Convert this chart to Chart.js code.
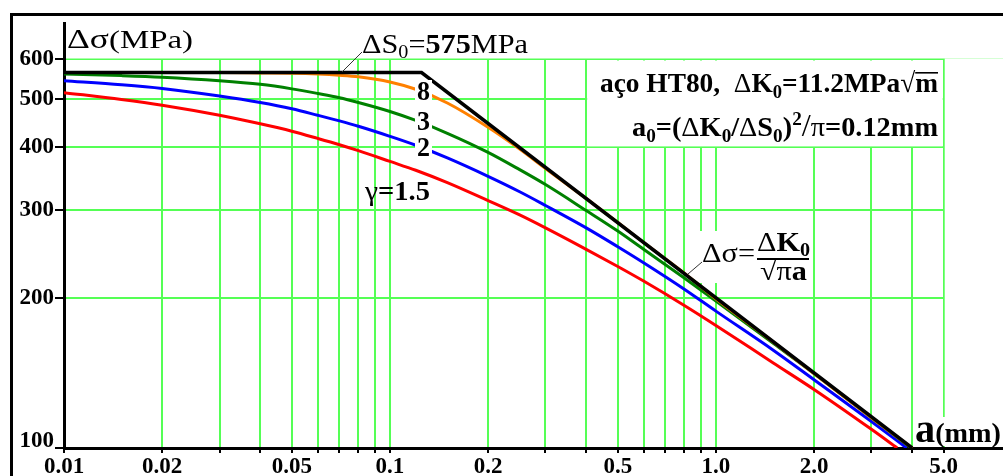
<!DOCTYPE html>
<html>
<head>
<meta charset="utf-8">
<script src="https://cdn.jsdelivr.net/npm/chart.js@4.4.0/dist/chart.umd.min.js"></script>
<style>
  html, body { margin: 0; padding: 0; background: #fff; }
  canvas { display: block; }
</style>
</head>
<body>
<canvas id="grafico" width="1003" height="476"></canvas>
<script>
// crack length a (mm) where the curves were read
const aMM = [0.01, 0.015, 0.02, 0.03, 0.04, 0.05, 0.06, 0.07, 0.08, 0.1, 0.12, 0.15,
             0.2, 0.25, 0.3, 0.4, 0.5, 0.6, 0.8, 1.0, 1.5, 2.0, 3.0];
// stress range (MPa) for each gamma
const gama15 = [515, 499, 486, 464, 446, 431, 417, 405, 394, 375, 360, 340, 313, 293, 276, 250, 231, 216, 193, 176, 148, 131, 109];
const gama2  = [544, 534, 525, 507, 492, 478, 464, 452, 441, 421, 404, 381, 350, 326, 306, 276, 253, 235, 208, 188, 157, 137, 113];
const gama3  = [561, 557, 553, 544, 535, 524, 513, 503, 492, 472, 453, 427, 391, 361, 337, 299, 272, 250, 219, 197, 162, 141, 115];
const gama8  = [565, 565, 565, 565, 564, 563, 561, 558, 554, 541, 523, 491, 439, 397, 363, 316, 283, 258, 224, 199, 163, 141, 115];
// where each curve reaches 100 MPa (gamma 1.5, 2, 3, 8)
const aFim = [3.6, 3.85, 3.97, 4.0];
// limit line: dS0 plateau then dK0/sqrt(pi a)
const limiteA = [0.01, 0.125, 4.0];
const limiteS = [565, 565, 100];

// axes
const xTicks = [0.01, 0.02, 0.03, 0.04, 0.05, 0.06, 0.07, 0.08, 0.09,
                0.1, 0.2, 0.3, 0.4, 0.5, 0.6, 0.7, 0.8, 0.9, 1, 2, 3, 4, 5];
const xRotVal = [0.01, 0.02, 0.05, 0.1, 0.2, 0.5, 1, 2, 5];
const xRotTxt = ['0.01', '0.02', '0.05', '0.1', '0.2', '0.5', '1.0', '2.0', '5.0'];
const yTicks = [100, 200, 300, 400, 500, 600];

const SERIF = "'Liberation Serif', 'Times New Roman', serif";
const verde = '#55ff55';

function fnt(size, bold) {
  return (bold ? 'bold ' : '') + size + 'px ' + SERIF;
}

function serie(vals, fim) {
  const pts = aMM.map((a, i) => ({x: a, y: vals[i]}));
  pts.push({x: fim, y: 100});
  return pts;
}

// draws a run of text pieces, squeezed to a given width
function texto(ctx, parts, x, y, largura) {
  let total = 0;
  parts.forEach(p => { ctx.font = p.f; p.w = ctx.measureText(p.t).width; total += p.w; });
  const sx = largura ? largura / total : 1;
  ctx.save();
  ctx.translate(x, y);
  ctx.scale(sx, 1);
  ctx.textAlign = 'left';
  ctx.textBaseline = 'alphabetic';
  ctx.fillStyle = '#000';
  let cx = 0;
  parts.forEach(p => {
    ctx.font = p.f;
    ctx.fillText(p.t, cx, p.dy || 0);
    if (p.over) ctx.fillRect(cx, p.over, p.w, 1.6);
    cx += p.w;
  });
  ctx.restore();
}

function branco(ctx, x, y, w, h) {
  ctx.save();
  ctx.fillStyle = '#fff';
  ctx.fillRect(x, y, w, h);
  ctx.restore();
}

function linha(ctx, x1, y1, x2, y2) {
  ctx.save();
  ctx.strokeStyle = '#333';
  ctx.lineWidth = 1;
  ctx.beginPath();
  ctx.moveTo(x1, y1);
  ctx.lineTo(x2, y2);
  ctx.stroke();
  ctx.restore();
}

const fundo = {
  id: 'fundo',
  beforeDraw(chart) {
    branco(chart.ctx, 0, 0, chart.width, chart.height);
  }
};

// grid only lives inside 0.01..5 x 100..600, and the note box is blank
const recortes = {
  id: 'recortes',
  beforeDatasetsDraw(chart) {
    const {ctx, chartArea: ca, scales: {x, y}} = chart;
    const x5 = x.getPixelForValue(5);
    const x04 = x.getPixelForValue(0.4);
    const y600 = y.getPixelForValue(600);
    const y400 = y.getPixelForValue(400);
    branco(ctx, ca.left + 2, ca.top, ca.right - ca.left, y600 - 1 - ca.top);
    branco(ctx, x5 + 1, y600 - 1, ca.right - x5, ca.bottom - 2 - (y600 - 1));
    branco(ctx, x04 + 1, y600 + 1, x5 - x04 - 2, y400 - y600 - 2);
  }
};

const anotacoes = {
  id: 'anotacoes',
  afterDatasetsDraw(chart) {
    const ctx = chart.ctx;

    // frame
    ctx.save();
    ctx.fillStyle = '#000';
    ctx.fillRect(10, 13, 3, 463);
    ctx.fillRect(10, 13, 993, 3);
    ctx.restore();

    // axis title
    texto(ctx, [{t: 'Δσ', f: fnt(27)}, {t: '(MPa)', f: fnt(25)}], 67, 48, 126);

    // dS0 label
    linha(ctx, 342, 72, 362, 52);
    texto(ctx, [
      {t: 'ΔS', f: fnt(27)}, {t: '0', f: fnt(18), dy: 5}, {t: '=', f: fnt(27)},
      {t: '575', f: fnt(27, true)}, {t: 'MPa', f: fnt(27)}
    ], 362, 53, 166);

    // material note
    texto(ctx, [
      {t: 'aço HT80,  ', f: fnt(28, true)}, {t: 'Δ', f: fnt(28)}, {t: 'K', f: fnt(28, true)},
      {t: '0', f: fnt(19, true), dy: 6}, {t: '=11.2MPa', f: fnt(28, true)},
      {t: '√', f: fnt(28)}, {t: 'm', f: fnt(28, true), over: -20}
    ], 600, 92, 338);
    texto(ctx, [
      {t: 'a', f: fnt(28, true)}, {t: '0', f: fnt(19, true), dy: 6}, {t: '=(', f: fnt(28, true)},
      {t: 'Δ', f: fnt(28)}, {t: 'K', f: fnt(28, true)}, {t: '0', f: fnt(19, true), dy: 6},
      {t: '/', f: fnt(28, true)}, {t: 'Δ', f: fnt(28)}, {t: 'S', f: fnt(28, true)},
      {t: '0', f: fnt(19, true), dy: 6}, {t: ')', f: fnt(28, true)},
      {t: '2', f: fnt(19, true), dy: -11}, {t: '/', f: fnt(32)}, {t: 'π', f: fnt(28)},
      {t: '=0.12mm', f: fnt(28, true)}
    ], 632, 136, 306);

    // curve labels
    branco(ctx, 415, 80, 17, 22);
    texto(ctx, [{t: '8', f: fnt(27, true)}], 417, 100, 13);
    branco(ctx, 415, 110, 17, 23);
    texto(ctx, [{t: '3', f: fnt(27, true)}], 417, 130, 13);
    branco(ctx, 415, 135, 17, 24);
    texto(ctx, [{t: '2', f: fnt(27, true)}], 417, 156, 13);
    texto(ctx, [{t: 'γ', f: fnt(28)}, {t: '=1.5', f: fnt(27, true)}], 365, 200, 65);

    // dK0 / sqrt(pi a) label
    branco(ctx, 700, 231, 112, 52);
    linha(ctx, 688, 274, 702, 262);
    texto(ctx, [{t: 'Δσ=', f: fnt(27)}], 702, 262, 53);
    texto(ctx, [{t: 'Δ', f: fnt(27)}, {t: 'K', f: fnt(27, true)}, {t: '0', f: fnt(18, true), dy: 5}], 757, 251, 53);
    ctx.save();
    ctx.fillStyle = '#000';
    ctx.fillRect(757, 258, 52, 2);
    ctx.restore();
    texto(ctx, [{t: '√', f: fnt(27)}, {t: 'π', f: fnt(27)}, {t: 'a', f: fnt(27, true)}], 760, 280, 47);

    // x axis title
    branco(ctx, 913, 417, 90, 29);
    texto(ctx, [{t: 'a', f: fnt(40, true)}, {t: '(mm)', f: fnt(28, true)}], 915, 442, 86);
  }
};

const curva = (label, cor, pts, largura) => ({
  label: label,
  data: pts,
  borderColor: cor,
  backgroundColor: cor,
  borderWidth: largura,
  pointRadius: 0,
  fill: false,
  tension: 0.4,
  cubicInterpolationMode: 'monotone'
});

new Chart(document.getElementById('grafico'), {
  type: 'line',
  data: {
    datasets: [
      {
        label: 'limite',
        data: limiteA.map((a, i) => ({x: a, y: limiteS[i]})),
        borderColor: '#000',
        borderWidth: 3.5,
        pointRadius: 0,
        tension: 0
      },
      curva('γ=8', '#ff8000', serie(gama8, aFim[3]), 3),
      curva('γ=3', '#008000', serie(gama3, aFim[2]), 3),
      curva('γ=2', '#0000ff', serie(gama2, aFim[1]), 3),
      curva('γ=1.5', '#ff0000', serie(gama15, aFim[0]), 3)
    ]
  },
  options: {
    responsive: false,
    animation: false,
    devicePixelRatio: 1,
    layout: {padding: {top: 23, left: 0, right: 0, bottom: 0}},
    plugins: {legend: {display: false}, tooltip: {enabled: false}},
    scales: {
      x: {
        type: 'logarithmic',
        min: 0.01,
        max: 7.6,
        afterBuildTicks: s => { s.ticks = xTicks.map(v => ({value: v})); },
        afterFit: s => { s.height = 28; s.paddingLeft = 0; s.paddingRight = 0; },
        grid: {color: verde, lineWidth: 2, tickColor: '#000', tickWidth: 2, tickLength: 5},
        border: {color: '#000', width: 3},
        ticks: {
          autoSkip: false,
          maxRotation: 0,
          padding: 0,
          color: '#000',
          font: {family: SERIF, size: 23, weight: 'bold'},
          callback: v => {
            const i = xRotVal.findIndex(r => Math.abs(r / v - 1) < 1e-6);
            return i >= 0 ? xRotTxt[i] : '';
          }
        }
      },
      y: {
        type: 'logarithmic',
        min: 100,
        max: 710,
        afterBuildTicks: s => { s.ticks = yTicks.map(v => ({value: v})); },
        afterFit: s => { s.width = 64; s.paddingTop = 0; s.paddingBottom = 0; },
        grid: {color: verde, lineWidth: 2, tickColor: '#000', tickWidth: 2, tickLength: 9},
        border: {color: '#000', width: 3},
        ticks: {
          autoSkip: false,
          padding: 1,
          color: '#000',
          font: {family: SERIF, size: 23, weight: 'bold', lineHeight: 0.6},
          callback: v => (v === 100 ? ['100', ''] : String(v))
        }
      }
    }
  },
  plugins: [fundo, recortes, anotacoes]
});
</script>
</body>
</html>
